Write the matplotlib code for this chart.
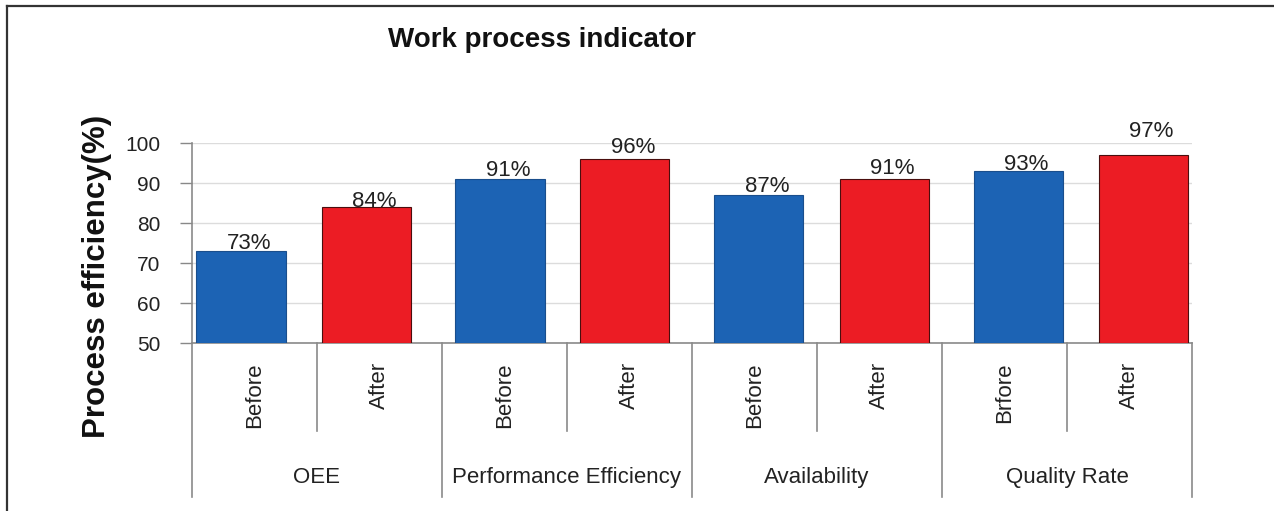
import matplotlib
matplotlib.use("Agg")
import matplotlib.pyplot as plt
from matplotlib import font_manager
from matplotlib.lines import Line2D
import matplotlib.transforms as mtransforms

# ---- data ----
groups = ["OEE", "Performance Efficiency", "Availability", "Quality Rate"]
sub_labels = ["Before", "After", "Before", "After", "Before", "After", "Brfore", "After"]
values = [73, 84, 91, 96, 87, 91, 93, 97]
value_labels = ["73%", "84%", "91%", "96%", "87%", "91%", "93%", "97%"]
title = "Work process indicator"
ylabel = "Process efficiency(%)"
yticks = [50, 60, 70, 80, 90, 100]

# ---- style / layout ----
W, H = 1274, 511
BLUE = "#1c63b4"
RED = "#ec1c24"
colors = [BLUE, RED] * 4
edges = ["#1a4e8c", "#4a0e0e"] * 4
group_shift = [-0.108, -0.108, -0.036, -0.036, 0.036, 0.036, 0.108, 0.108]
label_dx = 0.065
label_dy_px = [2, 0, 3, 6, 3, 5, 1, 18]
bar_w = 0.712
FONT = ["Liberation Sans", "DejaVu Sans"]
plt.rcParams["font.family"] = FONT

fig = plt.figure(figsize=(W / 100, H / 100), dpi=100)
fig.patch.set_facecolor("white")
ax = fig.add_axes([192 / W, 1 - 343 / H, 1000 / W, 200 / H])

n = len(values)
xs = [i + group_shift[i] for i in range(n)]
for i in range(n):
    ax.bar(xs[i], values[i] - yticks[0], bottom=yticks[0], width=bar_w,
           color=colors[i], edgecolor=edges[i], linewidth=0.8, zorder=3)

# value labels
for i in range(n):
    off = mtransforms.offset_copy(ax.transData, fig=fig, x=0, y=label_dy_px[i] * 0.72, units="points")
    ax.text(xs[i] + label_dx, values[i], value_labels[i], transform=off,
            ha="center", va="baseline", fontsize=16, color="#222222", clip_on=False, zorder=4)

ax.set_xlim(-0.5, n - 0.5)
ax.set_ylim(yticks[0], yticks[-1])
ax.set_yticks(yticks)
ax.set_yticklabels([str(t) for t in yticks], fontsize=15, color="#222222")
ax.tick_params(axis="y", length=8.5, width=1, color="#888888", pad=14)
ax.set_xticks([])
ax.yaxis.grid(True, color="#dcdcdc", linewidth=1, zorder=0)
ax.set_axisbelow(True)
for s in ["top", "right"]:
    ax.spines[s].set_visible(False)
for s in ["left", "bottom"]:
    ax.spines[s].set_color("#8a8a8a")
    ax.spines[s].set_linewidth(1.2)

# category axis (two-level)
trans = mtransforms.blended_transform_factory(ax.transData, ax.transAxes)
for b in range(n + 1):
    xb = b - 0.5
    y_end = -0.77 if b % 2 == 0 else -0.44
    ax.add_line(Line2D([xb, xb], [0, y_end], transform=trans, color="#8a8a8a",
                       linewidth=1.2, clip_on=False))
for i in range(n):
    ax.text(i, -0.095, sub_labels[i], transform=trans, rotation=90, ha="center", va="top",
            fontsize=16, color="#222222", clip_on=False)
for g in range(len(groups)):
    ax.text(2 * g + 0.5, -0.70, groups[g], transform=trans, ha="center", va="baseline",
            fontsize=16, color="#222222", clip_on=False)

# y label
fig.text(97 / W, 1 - 276 / H, ylabel, rotation=90, ha="center", va="center",
         fontsize=22.5, fontweight="bold", color="#111111")

# title
names = {f.name for f in font_manager.fontManager.ttflist}
if "Liberation Sans Narrow" in names:
    fig.text(542 / W, 1 - 47 / H, title, ha="center", va="baseline", fontsize=24,
             fontweight="bold", family=["Liberation Sans Narrow", "DejaVu Sans"], color="#111111")
else:
    fig.text(542 / W, 1 - 47 / H, title, ha="center", va="baseline", fontsize=20,
             fontweight="bold", color="#111111")

# frame (top and left edge)
fig.add_artist(Line2D([7 / W, 7 / W], [0, 1 - 6 / H], transform=fig.transFigure,
                      color="#333333", linewidth=1.6))
fig.add_artist(Line2D([7 / W, 1], [1 - 6 / H, 1 - 6 / H], transform=fig.transFigure,
                      color="#333333", linewidth=1.6))

fig.savefig("out.png", dpi=100, facecolor="white")
